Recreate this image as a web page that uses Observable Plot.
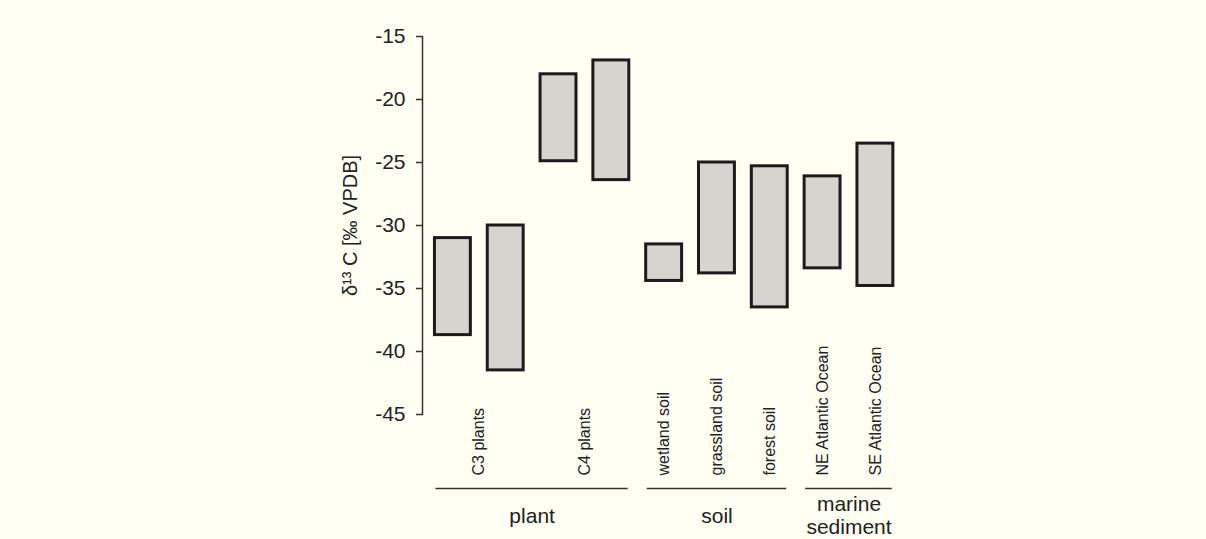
<!DOCTYPE html>
<html>
<head>
<meta charset="utf-8">
<script src="https://cdn.jsdelivr.net/npm/d3@7"></script>
<script src="https://cdn.jsdelivr.net/npm/@observablehq/plot@0.6"></script>
<style>
  html, body { margin: 0; padding: 0; background: #fffff3; }
  #chart svg { display: block; }
</style>
</head>
<body>
<div id="chart"></div>
<script>
const barLabels = ["C3 plants", "C3 plants", "C4 plants", "C4 plants", "wetland soil", "grassland soil", "forest soil", "NE Atlantic Ocean", "SE Atlantic Ocean"];
const barGroups = ["plant", "plant", "plant", "plant", "soil", "soil", "soil", "marine\nsediment", "marine\nsediment"];
const lowValues  = [-38.7, -41.5, -24.9, -26.4, -34.4, -33.8, -36.5, -33.4, -34.8];
const highValues = [-31.0, -30.0, -18.0, -16.9, -31.5, -25.0, -25.3, -26.1, -23.5];
const yTicks = [-15, -20, -25, -30, -35, -40, -45];
const yTitle = "δ¹³ C [‰ VPDB]";

const bars = barLabels.map((label, i) => ({i, label, group: barGroups[i], lo: lowValues[i], hi: highValues[i]}));

const labelRows = Array.from(d3.group(bars, d => d.label), ([label, rows]) => ({label, pos: d3.mean(rows, r => r.i)}));
const yBottom = d3.min(yTicks);
const groupRows = Array.from(d3.group(bars, d => d.group), ([group, rows]) => ({
  group, pos: d3.mean([d3.min(rows, r => r.i), d3.max(rows, r => r.i)]),
  start: d3.min(rows, r => r.i), end: d3.max(rows, r => r.i), base: yBottom
}));

const half = 0.34;
const font = "Liberation Sans, Arial, sans-serif";

const chart = Plot.plot({
  width: 1206,
  height: 539,
  marginTop: 36,
  marginBottom: 125,
  marginLeft: 422,
  marginRight: 304,
  style: {background: "#fffff3", fontFamily: font, color: "#222"},
  x: {type: "linear", domain: [-0.5, 8.5], range: [426, 901.3], axis: null},
  y: {domain: [d3.min(yTicks), d3.max(yTicks)], label: null, axis: null},
  marks: [
    Plot.frame({anchor: "left", stroke: "#333", strokeWidth: 1.5}),
    Plot.axisY({ticks: yTicks, tickFormat: d => String(d), tickSize: 6, tickPadding: 11, fontSize: 21, label: null, stroke: "#333", strokeWidth: 1.5, fill: "#222"}),
    Plot.rect(bars, {
      x1: d => d.i - half, x2: d => d.i + half,
      y1: "lo", y2: "hi",
      fill: "#d6d4cf", stroke: "#1e1a1a", strokeWidth: 3
    }),
    Plot.text(labelRows, {
      x: "pos", text: "label", frameAnchor: "bottom", dy: 61,
      rotate: -90, textAnchor: "start", lineAnchor: "middle",
      fontSize: 16, fill: "#222"
    }),
    Plot.ruleY(groupRows, {
      y: "base", x1: d => d.start - 0.32, x2: d => d.end + 0.32,
      dy: 74, stroke: "#333", strokeWidth: 1.5
    }),
    Plot.text(groupRows, {
      x: "pos", text: "group", frameAnchor: "bottom", dy: 101,
      lineAnchor: "middle", lineHeight: 1.1, fontSize: 21, fill: "#222"
    }),
    Plot.text([yTitle], {
      text: d => d, frameAnchor: "left", dx: -72, rotate: -90,
      textAnchor: "middle", fontSize: 20, fill: "#222"
    })
  ]
});
document.getElementById("chart").appendChild(chart);
</script>
</body>
</html>
